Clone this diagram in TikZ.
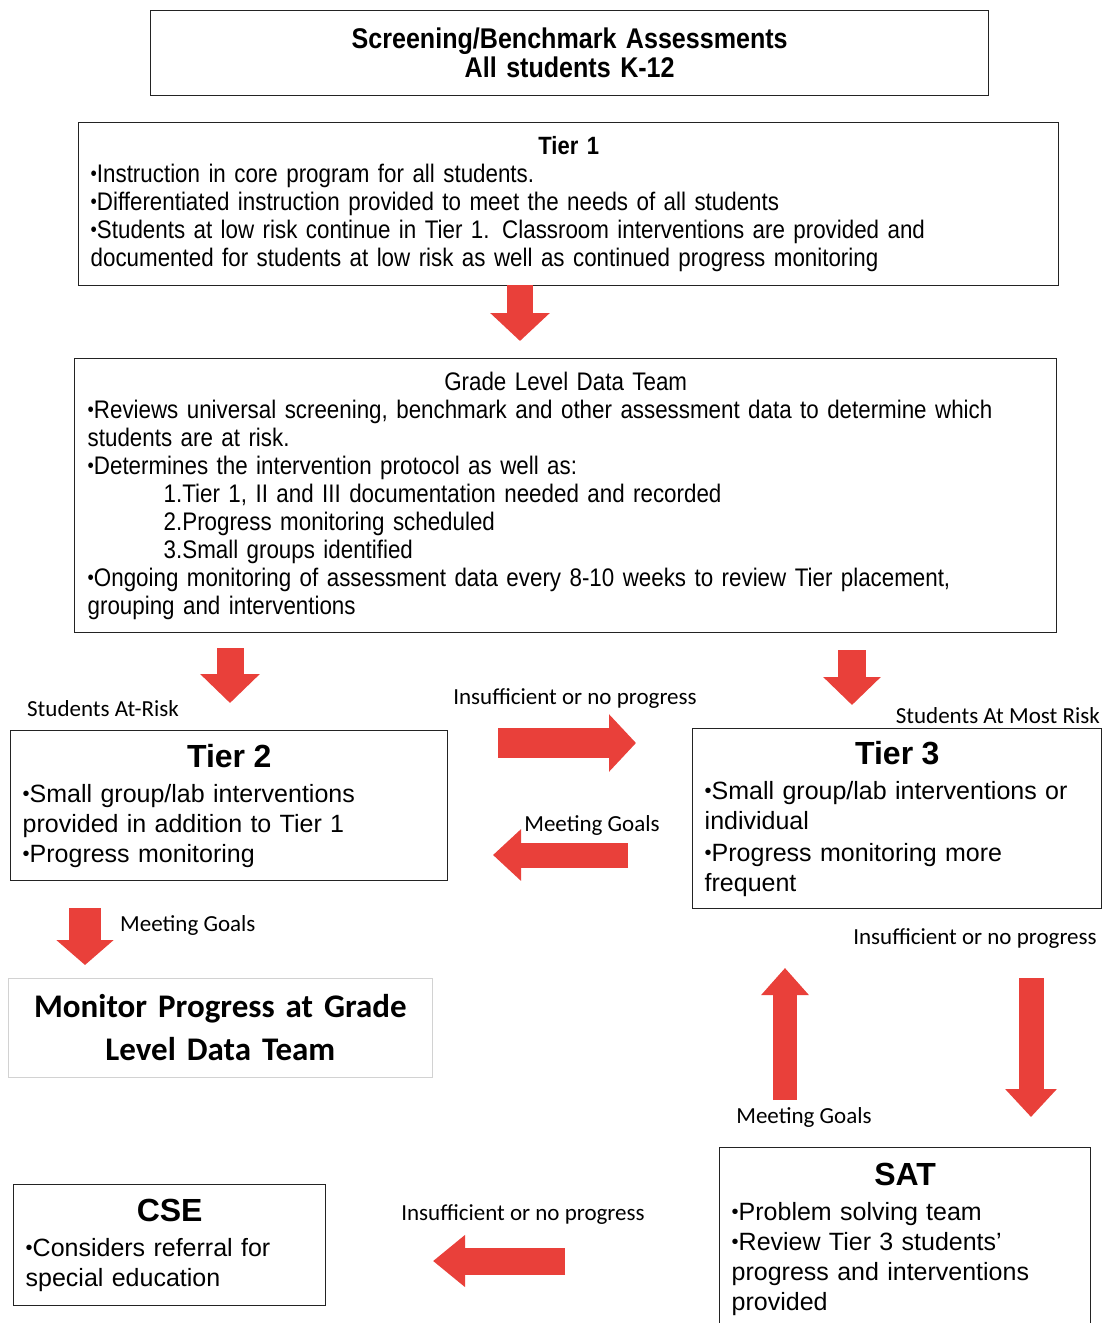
\documentclass[tikz,border=0pt]{standalone}
\usepackage{fontspec}
\usepackage{graphicx}
\setmainfont{Liberation Sans}
\newfontfamily\narrowfont[FakeStretch=0.88]{Liberation Sans}
\newfontfamily\calfont{Carlito}
\usetikzlibrary{arrows.meta}
\definecolor{arrowred}{RGB}{233,64,58}
\definecolor{boxline}{RGB}{35,35,35}
\newcommand{\itm}{\raisebox{0.08em}{\scalebox{0.8}{•}}}
\newcommand{\bodyfont}{\fontsize{25}{30}\selectfont}
\newcommand{\ttlfont}{\bfseries\fontsize{32}{36}\selectfont}
\newcommand{\tierfont}{\narrowfont\fontsize{25.4}{28}\selectfont}

\begin{document}
\begin{tikzpicture}[
  x=1pt, y=-1pt,
  box/.style={draw=boxline, line width=1.4pt, anchor=north west, inner xsep=12pt,
              inner ysep=0pt, align=left},
  lbl/.style={font={\calfont\fontsize{23}{26}\selectfont}, inner sep=0pt},
  blk/.style n args={3}{draw=arrowred, line width=#1, -{Triangle[width=#2, length=#3]}}
]
  \useasboundingbox (0,0) rectangle (1104,1323);
  \node[box, minimum width=838pt, minimum height=85pt, text width=814pt, align=center,
        font={\narrowfont\bfseries\fontsize{28.5}{29}\selectfont}] (screen) at (150,10)
        {Screening/Benchmark Assessments\\All students K-12};
  \node[box, minimum width=980pt, minimum height=163pt, text width=956pt, font=\tierfont] (tierone) at (78,122)
        {{\centering\bfseries\fontsize{25}{28}\selectfont Tier 1\par}
         \itm Instruction in core program for all students.\\
         \itm Differentiated instruction provided to meet the needs of all students\\
         \itm Students at low risk continue in Tier 1. Classroom interventions are provided and\\
         documented for students at low risk as well as continued progress monitoring};
  \node[box, minimum width=982pt, minimum height=274pt, text width=956pt, inner xsep=13pt,
        font=\tierfont] (gldt) at (74,358)
        {{\centering Grade Level Data Team\par}
         \itm Reviews universal screening, benchmark and other assessment data to determine which\\
         students are at risk.\\
         \itm Determines the intervention protocol as well as:\\
         \hspace*{76pt}1.Tier 1, II and III documentation needed and recorded\\
         \hspace*{76pt}2.Progress monitoring scheduled\\
         \hspace*{76pt}3.Small groups identified\\
         \itm Ongoing monitoring of assessment data every 8-10 weeks to review Tier placement,\\
         grouping and interventions};
  \node[box, minimum width=437pt, minimum height=150pt, text width=413pt, font=\bodyfont] (tiertwo) at (10,730)
        {{\centering\ttlfont Tier 2\par}\vspace{5pt}
         \itm Small group/lab interventions\\ provided in addition to Tier 1\\ \itm Progress monitoring};
  \node[box, minimum width=409pt, minimum height=180pt, text width=385pt, font=\bodyfont] (tierthree) at (692,728)
        {{\centering\ttlfont Tier 3\par}\vspace{5pt}
         \itm Small group/lab interventions or\\ individual\\[2pt] \itm Progress monitoring more\\ frequent};
  \node[box, draw=gray!35, line width=0.8pt, minimum width=424pt, minimum height=99pt, text width=400pt,
        align=center, font={\calfont\bfseries\fontsize{33}{43}\selectfont}] (monitor) at (8,978)
        {Monitor Progress at Grade\\ Level Data Team};
  \node[box, minimum width=371pt, minimum height=183pt, text width=347pt, font=\bodyfont] (sat) at (719,1147)
        {{\centering\ttlfont SAT\par}\vspace{5pt}
         \itm Problem solving team\\ \itm Review Tier 3 students'\\ progress and interventions\\ provided};
  \node[box, minimum width=312pt, minimum height=121pt, text width=288pt, font=\bodyfont] (cse) at (13,1184)
        {{\centering\ttlfont CSE\par}\vspace{5pt}
         \itm Considers referral for\\ special education};
  % labels
  \node[lbl] (atrisk) at (103,709) {Students At-Risk};
  \node[lbl] (insufa) at (575,699) {Insufficient or no progress};
  \node[lbl, anchor=east] (mostrisk) at (1100,716) {Students At Most Risk};
  \node[lbl] (meeta) at (592,825) {Meeting Goals};
  \node[lbl, anchor=west] (meetb) at (120,925) {Meeting Goals};
  \node[lbl] (insufb) at (975,939) {Insufficient or no progress};
  \node[lbl] (meetc) at (804,1117) {Meeting Goals};
  \node[lbl] (insufc) at (523,1215) {Insufficient or no progress};
  % arrow ends
  \coordinate (a1s) at (520,285);  \coordinate (a1e) at (520,341);
  \coordinate (a2s) at (230,648);  \coordinate (a2e) at (230,703);
  \coordinate (a3s) at (852,650);  \coordinate (a3e) at (852,705);
  \coordinate (a4s) at (498,743);  \coordinate (a4e) at (636,743);
  \coordinate (a5s) at (628,855);  \coordinate (a5e) at (493,855);
  \coordinate (a6s) at (85,908);   \coordinate (a6e) at (85,965);
  \coordinate (a7s) at (785,1100); \coordinate (a7e) at (785,968);
  \coordinate (a8s) at (1031,978); \coordinate (a8e) at (1031,1117);
  \coordinate (a9s) at (565,1261); \coordinate (a9e) at (433,1261);
  \draw[blk={26pt}{58pt}{28pt}] (a1s) -- (a1e);
  \draw[blk={27pt}{58pt}{29pt}] (a2s) -- (a2e);
  \draw[blk={28pt}{56pt}{28pt}] (a3s) -- (a3e);
  \draw[blk={30pt}{56pt}{27pt}] (a4s) -- (a4e);
  \draw[blk={25pt}{50pt}{28pt}] (a5s) -- (a5e);
  \draw[blk={32pt}{56pt}{25pt}] (a6s) -- (a6e);
  \draw[blk={24pt}{46pt}{27pt}] (a7s) -- (a7e);
  \draw[blk={25pt}{50pt}{28pt}] (a8s) -- (a8e);
  \draw[blk={27pt}{50pt}{32pt}] (a9s) -- (a9e);
\end{tikzpicture}
\end{document}
